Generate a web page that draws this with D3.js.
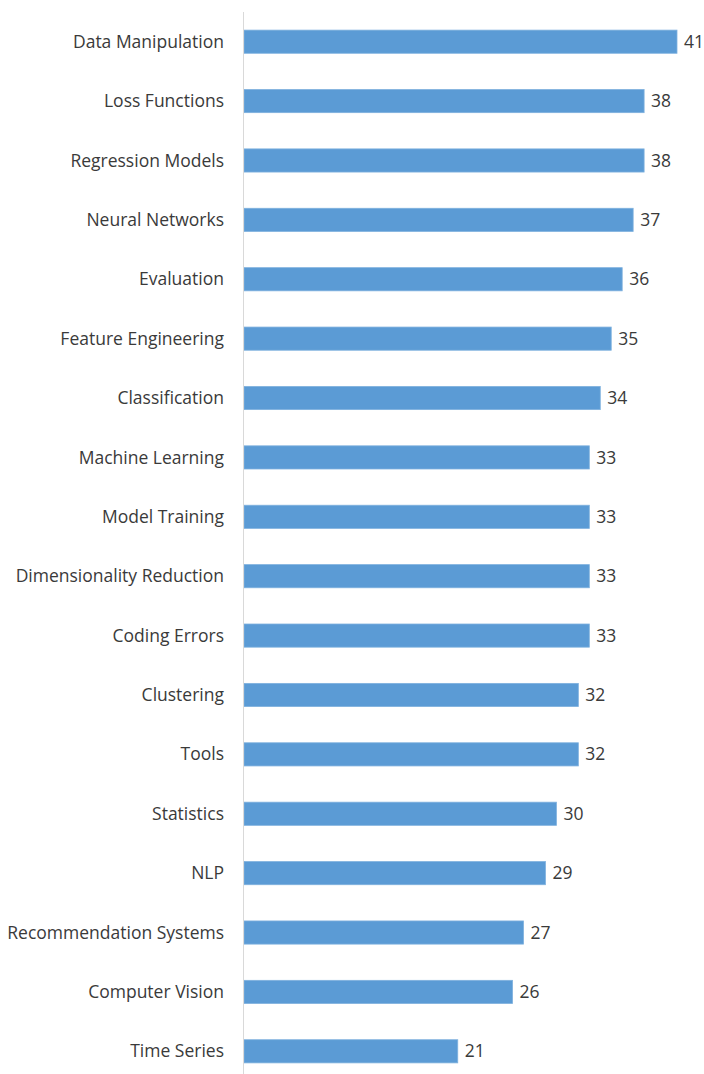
<!DOCTYPE html>
<html>
<head>
<meta charset="utf-8">
<script src="https://cdn.jsdelivr.net/npm/d3@7"></script>
<style>
  body { margin: 0; background: #fff; }
  text { font-family: "Open Sans", "Liberation Sans", sans-serif; fill: #3a3a3a; }
</style>
</head>
<body>
<div id="chart"></div>
<script>
var categories = ["Data Manipulation", "Loss Functions", "Regression Models", "Neural Networks",
    "Evaluation", "Feature Engineering", "Classification", "Machine Learning", "Model Training",
    "Dimensionality Reduction", "Coding Errors", "Clustering", "Tools", "Statistics", "NLP",
    "Recommendation Systems", "Computer Vision", "Time Series"];
var values = [41, 38, 38, 37, 36, 35, 34, 33, 33, 33, 33, 32, 32, 30, 29, 27, 26, 21];

var width = 704,
    height = 1074;

var svg = d3.select('#chart').append('svg')
    .attr('width', width)
    .attr('height', height);

// axis in the picture does not start at zero
var x = d3.scaleLinear().domain([1.5, 41]).range([244, 677]);
var y = d3.scaleBand().domain(categories).range([12, 1081])
    .paddingInner(0.61).paddingOuter(0.305);

var rows = categories.map(function(c, i) { return {name: c, value: values[i]}; });

svg.append('g')
    .selectAll('rect')
    .data(rows)
    .enter().append('rect')
    .attr('x', x(1.5))
    .attr('y', function(d) { return y(d.name); })
    .attr('width', function(d) { return x(d.value) - x(1.5); })
    .attr('height', y.bandwidth())
    .attr('fill', '#5b9bd5')
    .attr('stroke', '#7fb1de')
    .attr('stroke-width', 0.8);

// vertical axis line
svg.append('line')
    .attr('x1', 243.5).attr('x2', 243.5)
    .attr('y1', 12).attr('y2', height)
    .attr('stroke', '#d9d9d9')
    .attr('stroke-width', 1);

svg.append('g')
    .selectAll('text')
    .data(rows)
    .enter().append('text')
    .attr('x', 224)
    .attr('y', function(d) { return y(d.name) + y.bandwidth() / 2; })
    .attr('dy', '0.35em')
    .attr('text-anchor', 'end')
    .style('font-size', '17.5px')
    .text(function(d) { return d.name; });

svg.append('g')
    .selectAll('text')
    .data(rows)
    .enter().append('text')
    .attr('x', function(d) { return x(d.value) + 7; })
    .attr('y', function(d) { return y(d.name) + y.bandwidth() / 2; })
    .attr('dy', '0.35em')
    .style('font-size', '17.5px')
    .text(function(d) { return d.value; });
</script>
</body>
</html>
